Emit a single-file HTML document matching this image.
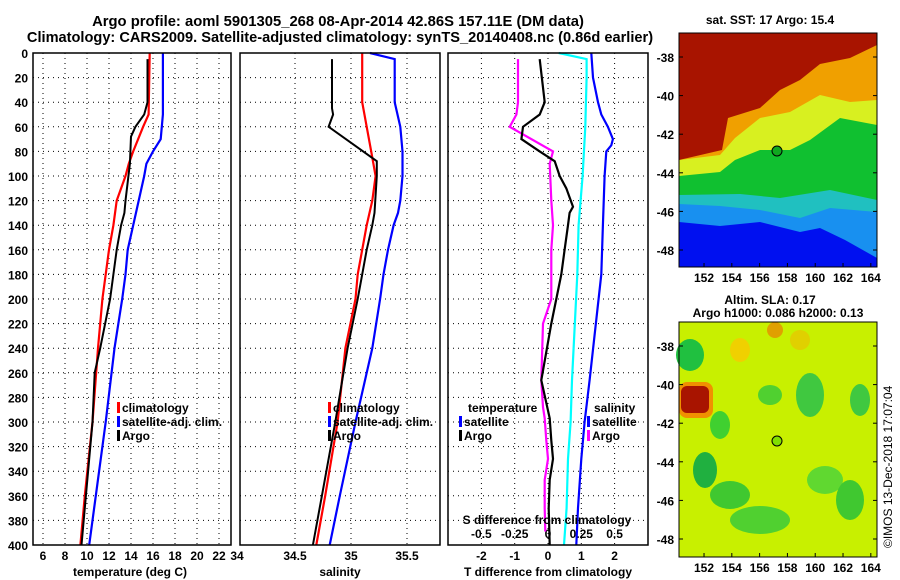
<!DOCTYPE html>
<html><head><meta charset="utf-8"><style>
body{margin:0;background:#fff;}
svg{display:block;font-family:"Liberation Sans",sans-serif;font-weight:bold;}
</style></head><body>
<svg id="c" width="900" height="580" viewBox="0 0 900 580">
<rect width="900" height="580" fill="#fff"/>
<text x="338" y="26" font-size="14.8" text-anchor="middle">Argo profile: aoml 5901305_268 08-Apr-2014 42.86S 157.11E (DM data)</text>
<text x="340" y="42" font-size="14.6" text-anchor="middle">Climatology: CARS2009. Satellite-adjusted climatology: synTS_20140408.nc (0.86d earlier)</text>
<text x="770" y="24" font-size="12" text-anchor="middle">sat. SST: 17 Argo: 15.4</text>
<text x="770" y="304" font-size="12" text-anchor="middle">Altim. SLA: 0.17</text>
<text x="778" y="317" font-size="12" text-anchor="middle">Argo h1000: 0.086 h2000: 0.13</text>
<text x="0" y="0" font-size="12" font-weight="normal" transform="translate(892,548) rotate(-90)">©IMOS 13-Dec-2018 17:07:04</text>
<g id="plots"></g>
</svg>
<script>
// ---- data ----
const depthRed=[0,50,60,80,90,100,120,140,160,180,200,240,300,360,400];
const tempClim=[15.7,15.6,15.1,14.2,13.8,13.5,12.7,12.4,12.0,11.7,11.4,11.0,10.5,9.8,9.4];
const depthBlue=[0,50,70,80,90,100,120,140,160,180,200,240,300,360,400];
const tempSat=[16.9,16.9,16.7,16.0,15.4,15.2,14.7,14.2,13.7,13.5,13.2,12.5,11.7,10.8,10.2];
const depthArgoT=[5,40,50,60,68,90,120,130,140,160,180,200,240,260,300,360,400];
const tempArgo=[15.5,15.5,15.2,14.4,14.0,13.9,13.5,13.4,13.1,12.7,12.4,12.1,11.2,10.7,10.5,9.9,9.5];

const depthSal=[0,40,60,80,90,100,120,140,160,180,200,240,300,360,400];
const salClim=[35.1,35.1,35.14,35.18,35.2,35.22,35.19,35.14,35.1,35.06,35.04,34.95,34.88,34.77,34.69];
const depthSalSat=[0,5,40,60,80,100,120,130,140,160,180,200,240,300,360,400];
const salSat=[35.17,35.39,35.39,35.44,35.46,35.46,35.44,35.42,35.38,35.33,35.29,35.26,35.19,35.04,34.9,34.81];
const depthSalArgo=[5,45,50,60,88,100,130,140,160,180,200,240,300,360,400];
const salArgo=[34.83,34.83,34.84,34.8,35.23,35.23,35.21,35.19,35.14,35.1,35.06,34.97,34.86,34.74,34.66];

const depthDS=[5,40,50,60,80,90,120,140,160,200,220,266,288,297,315,330,347,370,389];
const sDiffArgo=[-0.9,-0.9,-0.95,-1.15,0.15,0.05,0.1,0.15,0.1,0.1,-0.15,-0.2,-0.15,-0.1,-0.05,0.0,-0.1,-0.1,-0.08];
const depthDT=[5,40,50,60,70,80,88,100,110,125,130,140,160,180,220,266,297,315,330,347,370,400];
const tDiffArgo=[-0.25,-0.1,-0.25,-0.75,-0.8,-0.25,0.2,0.35,0.55,0.75,0.65,0.6,0.5,0.4,0.1,-0.2,0.05,0.1,0.15,0.05,0.02,0.05];
const depthSS=[0,5,20,60,100,140,180,266,300,330,370,400];
const sDiffSat=[0.08,0.29,0.29,0.28,0.26,0.23,0.22,0.18,0.17,0.15,0.14,0.12];
const depthTS=[0,20,40,50,60,70,75,80,100,140,180,266,300,330,370,400];
const tDiffSat=[1.3,1.35,1.5,1.6,1.8,1.95,1.9,1.75,1.7,1.65,1.6,1.25,1.1,1.0,0.9,0.85];

const depthTicks=[0,20,40,60,80,100,120,140,160,180,200,220,240,260,280,300,320,340,360,380,400];
const tempTicks=[6,8,10,12,14,16,18,20,22];
const salTicks=[34,34.5,35,35.5];
const salTickLabels=["34","34.5","35","35.5"];
const tdTicks=[-2,-1,0,1,2];
const sdTicks=[-0.5,-0.25,0,0.25,0.5];
const sdTickLabels=["-0.5","-0.25","0","0.25","0.5"];

// ---- scales ----
const Y=d=>53+d*1.23;
const XT=t=>43+(t-6)*11;
const XS=s=>295+(s-34.5)*112;
const XD=t=>548+t*33.3;
const XSD=s=>XD(s*4);

const NS="http://www.w3.org/2000/svg";
const root=document.getElementById('plots');
function mk(tag,attrs,parent){const e=document.createElementNS(NS,tag);for(const k in attrs)e.setAttribute(k,attrs[k]);(parent||root).appendChild(e);return e;}
function txt(x,y,s,anchor,size){const e=mk('text',{x:x,y:y,'font-size':size||12,'text-anchor':anchor||'middle'});e.textContent=s;return e;}

const panels=[[33,231],[240,440],[448,648]];
panels.forEach((p,i)=>{
  depthTicks.forEach(d=>{
    if(d>0&&d<400){const g=mk('line',{x1:p[0],x2:p[1],y1:Y(d),y2:Y(d),stroke:'#000','stroke-dasharray':'1,4','stroke-width':1});
    
    }
  });
});
function vgrid(x,p){const g=mk('line',{x1:x,x2:x,y1:53,y2:545,stroke:'#000','stroke-dasharray':'1,4','stroke-width':1});

}
tempTicks.forEach(t=>{vgrid(XT(t));const e=txt(XT(t),560,String(t));

});
salTicks.forEach((s,i)=>{if(i>0)vgrid(XS(s));const e=txt(XS(s)+(i==0?-2:0),560,salTickLabels[i]);

});
tdTicks.forEach(t=>{vgrid(XD(t));const e=txt(XD(t),560,String(t));

});
sdTicks.forEach((s,i)=>{const e=txt(XSD(s),538,sdTickLabels[i]);

});
depthTicks.forEach(d=>{const e=txt(28,Y(d)+5,String(d),'end');

});

function line(ds,vs,X,color,w,name){
  const pts=ds.map((d,i)=>X(vs[i]).toFixed(1)+','+Y(d).toFixed(1)).join(' ');
  const e=mk('polyline',{points:pts,fill:'none',stroke:color,'stroke-width':w});
  
  
}
line(depthRed,tempClim,XT,'#f00',2.2,'temp-climatology-line');
line(depthBlue,tempSat,XT,'#00f',2.2,'temp-satellite-line');
line(depthArgoT,tempArgo,XT,'#000',2,'temp-argo-line');
line(depthSal,salClim,XS,'#f00',2.2,'sal-climatology-line');
line(depthSalSat,salSat,XS,'#00f',2.2,'sal-satellite-line');
line(depthSalArgo,salArgo,XS,'#000',2,'sal-argo-line');
line(depthDS,sDiffArgo,XD,'#f0f',2.2,'sdiff-argo-line');
line(depthDT,tDiffArgo,XD,'#000',2.2,'tdiff-argo-line');
line(depthSS,sDiffSat,XSD,'#0ff',2.2,'sdiff-satellite-line');
line(depthTS,tDiffSat,XD,'#00f',2.2,'tdiff-satellite-line');

panels.forEach(p=>{const f=mk('rect',{x:p[0],y:53,width:p[1]-p[0],height:492,fill:'none',stroke:'#000','stroke-width':1.5});

});

// axis titles
[['temperature (deg C)',130,'temp-axis-title'],['salinity',340,'sal-axis-title'],['T difference from climatology',548,'tdiff-axis-title']].forEach(a=>{
  const e=txt(a[1],576,a[0]);
  
  
});
const sdt=txt(547,524,'S difference from climatology');



// legends
function legend(x,y,color,label){
  const m=mk('rect',{x:x,y:y-10,width:3,height:11,fill:color});
  
  
  const t=txt(x+5,y,label,'start');
  
  
}
legend(117,412,'#f00','climatology');legend(117,426,'#00f','satellite-adj. clim.');legend(117,440,'#000','Argo');
legend(328,412,'#f00','climatology');legend(328,426,'#00f','satellite-adj. clim.');legend(328,440,'#000','Argo');
const lt=txt(468,412,'temperature','start');


legend(459,426,'#00f','satellite');legend(459,440,'#000','Argo');
const ls=txt(594,412,'salinity','start');


legend(587,426,'#00f','satellite');legend(587,440,'#f0f','Argo');

// ---- maps ----
function poly(pts,fill,name){const e=mk('polygon',{points:pts,fill:fill});

}
const mL=679,mR=877;
// SST map
poly(`${mL},33 ${mR},33 ${mR},267 ${mL},267`,'#0010f0','sst-map');
poly(`${mL},33 ${mR},33 ${mR},258 845,240 820,228 800,232 760,222 720,226 ${mL},222`,'#1890f0','sst-band-lightblue');
poly(`${mL},33 ${mR},33 ${mR},212 830,208 800,218 760,210 720,206 ${mL},204`,'#20c0c0','sst-band-teal');
poly(`${mL},33 ${mR},33 ${mR},200 830,190 780,198 740,194 ${mL},195`,'#10c030','sst-band-green');
poly(`${mL},33 ${mR},33 ${mR},125 840,118 810,140 790,150 760,150 735,160 720,172 ${mL},176`,'#d8f020','sst-band-yellow');
poly(`${mL},33 ${mR},33 ${mR},100 850,102 820,95 790,112 760,118 735,138 720,155 ${mL},160`,'#f0a000','sst-band-orange');
poly(`${mL},33 ${mR},33 ${mR},45 850,58 820,64 800,80 780,90 760,108 728,118 722,150 ${mL},160`,'#a81400','sst-band-red');
const c1=mk('circle',{cx:777,cy:151,r:5,fill:'#10a820',stroke:'#000','stroke-width':1});


// SLA map
poly(`${mL},322 ${mR},322 ${mR},557 ${mL},557`,'#c8f000','sla-map');
[[690,355,14,16,'#20c040'],[705,470,12,18,'#20b040'],[720,425,10,14,'#40d030'],[730,495,20,14,'#40c830'],[760,520,30,14,'#50d030'],[810,395,14,22,'#40c840'],[825,480,18,14,'#60d830'],[860,400,10,16,'#40c840'],[850,500,14,20,'#40c830'],[770,395,12,10,'#50d030'],[800,340,10,10,'#e0d000'],[740,350,10,12,'#f0d000'],[775,330,8,8,'#e0a000']].forEach(b=>{
  const e=mk('ellipse',{cx:b[0],cy:b[1],rx:b[2],ry:b[3],fill:b[4]});
  
  
});
const or=mk('rect',{x:679,y:382,width:34,height:36,rx:8,fill:'#f09000'});


const dr=mk('rect',{x:681,y:386,width:28,height:27,rx:6,fill:'#a81400'});


const c2=mk('circle',{cx:777,cy:441,r:5,fill:'#80e000',stroke:'#000','stroke-width':1});



// map axes
const latTicks=[-38,-40,-42,-44,-46,-48];
const lonTicks=[152,154,156,158,160,162,164];
const LY=(l,off)=>off+(-38-l)*19.3;
const LX=l=>679+(l-150.2)*13.9;
[[33,57,267],[322,346,557]].forEach((m,mi)=>{
  const fr=mk('rect',{x:mL,y:m[0],width:mR-mL,height:m[2]-m[0],fill:'none',stroke:'#000','stroke-width':1});
  
  
  latTicks.forEach(l=>{const y=LY(l,m[1]);
    mk('line',{x1:mL,x2:mL+4,y1:y,y2:y,stroke:'#000'});mk('line',{x1:mR-4,x2:mR,y1:y,y2:y,stroke:'#000'});
    const e=txt(674,y+5,String(l),'end');
    
    });
  lonTicks.forEach(l=>{const x=LX(l);
    mk('line',{x1:x,x2:x,y1:m[2]-4,y2:m[2],stroke:'#000'});
    const e=txt(x,m[2]+15,String(l));
    
    });
});
</script>
</body></html>
